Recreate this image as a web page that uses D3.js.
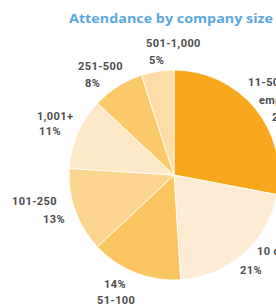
<!DOCTYPE html>
<html>
<head>
<meta charset="utf-8">
<script src="https://cdn.jsdelivr.net/npm/d3@7"></script>
<style>
  html, body { margin: 0; padding: 0; background: #fff; }
  svg { display: block; }
  .title { font-family: "Open Sans", sans-serif; font-weight: bold; font-size: 13px; fill: #5ba8e0; }
  .label { font-family: Roboto, "DejaVu Sans", sans-serif; font-weight: bold; font-size: 11px; fill: #4d4d4d; letter-spacing: 0.4px; }
</style>
</head>
<body>
<div id="chart"></div>
<script>
// slices, clockwise from 12 o'clock
var categories = ["11-50|employees", "10 or fewer", "51-100", "101-250", "1,001+", "251-500", "501-1,000"];
var shares = [28, 21, 14, 13, 11, 8, 5];
var colors = ["#f9a71c", "#fdecd3", "#fac45f", "#fcd690", "#fde9c8", "#fbc86a", "#fddca8"];

// where each label sits: name line(s) then the percent, [x, baseline]
var labelSpots = [
  [[248, 86], [259, 104], [272, 121]],
  [[257, 255], [240, 274]],
  [[97, 304], [104, 288]],
  [[12, 205], [43, 223]],
  [[37, 120], [39, 135]],
  [[78, 70], [85, 87]],
  [[146, 47], [149, 64]]
];

var svgWidth = 276, svgHeight = 305;
var cx = 174, cy = 175, radius = 105;

var svg = d3.select("#chart")
  .append("svg")
  .attr("width", svgWidth)
  .attr("height", svgHeight);

svg.append("text")
  .attr("class", "title")
  .attr("x", 69)
  .attr("y", 23)
  .attr("textLength", 204)
  .attr("lengthAdjust", "spacingAndGlyphs")
  .text("Attendance by company size");

var pie = d3.pie()
  .sort(null)
  .value(function(d) { return d; });

var arc = d3.arc()
  .innerRadius(0)
  .outerRadius(radius);

var g = svg.append("g")
  .attr("transform", "translate(" + cx + "," + cy + ")");

g.selectAll("path")
  .data(pie(shares))
  .enter()
  .append("path")
  .attr("d", arc)
  .attr("fill", function(d, i) { return colors[i]; })
  .attr("stroke", "#fff")
  .attr("stroke-width", 0.8);

// labels
categories.forEach(function(name, i) {
  var lines = name.split("|");
  lines.push(shares[i] + "%");
  lines.forEach(function(txt, j) {
    var spot = labelSpots[i][j];
    svg.append("text")
      .attr("class", "label")
      .attr("x", spot[0])
      .attr("y", spot[1])
      .text(txt);
  });
});
</script>
</body>
</html>
